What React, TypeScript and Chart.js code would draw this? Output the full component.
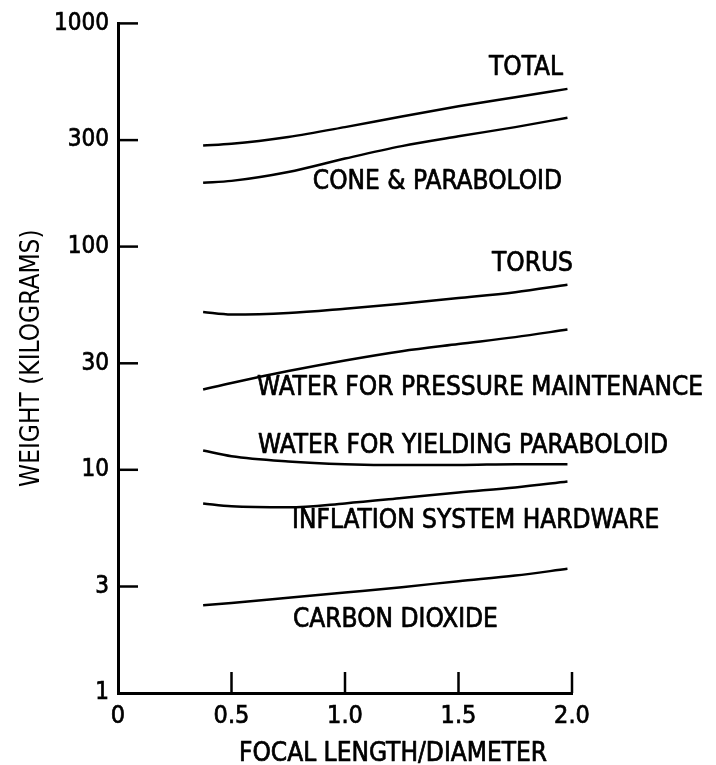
import { useEffect, useRef } from 'react';
import { Chart, registerables } from 'chart.js';

Chart.register(...registerables);

// Focal length / diameter sample points
const focalRatio = [0.375, 0.5, 0.75, 1.0, 1.25, 1.5, 1.75, 1.98];

// Weights in kilograms
const total = [284, 289, 310, 343, 383, 425, 467, 509];
const coneParaboloid = [193, 197, 216, 248, 282, 312, 343, 378];
const torus = [50.9, 49.6, 50.4, 52.7, 55.5, 58.8, 62.5, 67.5];
const waterPressure = [22.9, 24.5, 27.7, 30.9, 34.0, 36.6, 39.3, 42.5];
const waterYielding = [12.2, 11.5, 10.9, 10.6, 10.5, 10.5, 10.6, 10.6];
const inflationHardware = [7.07, 6.86, 6.79, 7.07, 7.47, 7.92, 8.34, 8.87];
const carbonDioxide = [2.47, 2.53, 2.67, 2.82, 2.98, 3.17, 3.36, 3.6];

const seriesNames = [
  'TOTAL',
  'CONE & PARABOLOID',
  'TORUS',
  'WATER FOR PRESSURE MAINTENANCE',
  'WATER FOR YIELDING PARABOLOID',
  'INFLATION SYSTEM HARDWARE',
  'CARBON DIOXIDE',
];

// Tick values
const yTicks = [1, 3, 10, 30, 100, 300, 1000];
const xTicks = [0, 0.5, 1.0, 1.5, 2.0];

// Curve label anchors (data units)
const labelX = [1.96, 1.956, 2.004, 0.612, 0.617, 0.767, 0.771];
const labelY = [650, 199, 86, 23.9, 13.1, 6.04, 2.18];
const labelAlign = ['right', 'right', 'right', 'left', 'left', 'left', 'left'];

const xTitle = 'FOCAL LENGTH/DIAMETER';
const yTitle = 'WEIGHT (KILOGRAMS)';

const TEXT_FONT = "'DejaVu Sans Condensed', 'DejaVu Sans', sans-serif";
const TICK_FONT = "'DejaVu Sans Condensed', 'DejaVu Sans', sans-serif";

export default function App() {
  const canvasRef = useRef<HTMLCanvasElement | null>(null);

  useEffect(() => {
    const canvas = canvasRef.current;
    if (!canvas) return;

    const series = [total, coneParaboloid, torus, waterPressure, waterYielding, inflationHardware, carbonDioxide];

    const annotate = {
      id: 'annotate',
      afterDraw(chart: any) {
        const ctx = chart.ctx;
        const xs = chart.scales.x;
        const ys = chart.scales.y;
        const area = chart.chartArea;
        ctx.save();
        ctx.strokeStyle = '#000';
        ctx.lineWidth = 2.5;
        ctx.lineCap = 'butt';
        // inward tick marks
        yTicks.forEach((v) => {
          if (v === yTicks[0]) return;
          const py = ys.getPixelForValue(v);
          ctx.beginPath();
          ctx.moveTo(area.left, py);
          ctx.lineTo(area.left + 20, py);
          ctx.stroke();
        });
        xTicks.forEach((v) => {
          if (v === xTicks[0]) return;
          const px = xs.getPixelForValue(v);
          ctx.beginPath();
          ctx.moveTo(px, area.bottom);
          ctx.lineTo(px, area.bottom - 21);
          ctx.stroke();
        });
        // curve labels
        ctx.fillStyle = '#000';
        ctx.font = `26px ${TEXT_FONT}`;
        ctx.textBaseline = 'alphabetic';
        ctx.lineWidth = 0.7;
        ctx.lineJoin = 'round';
        seriesNames.forEach((name, i) => {
          const px = xs.getPixelForValue(labelX[i]);
          const py = ys.getPixelForValue(labelY[i]);
          ctx.textAlign = labelAlign[i];
          ctx.fillText(name, px, py + 9.5);
          ctx.strokeText(name, px, py + 9.5);
        });
        // x axis title
        ctx.textAlign = 'center';
        ctx.fillText(xTitle, 393, 760.5);
        ctx.strokeText(xTitle, 393, 760.5);
        ctx.restore();
      },
    };

    const chart = new Chart(canvas, {
      type: 'line',
      data: {
        datasets: series.map((vals, i) => ({
          label: seriesNames[i],
          data: focalRatio.map((x, j) => ({ x, y: vals[j] })),
          borderColor: '#000',
          backgroundColor: '#000',
          borderWidth: 2.5,
          pointRadius: 0,
          fill: false,
          cubicInterpolationMode: 'monotone',
        })),
      },
      options: {
        responsive: false,
        animation: false,
        devicePixelRatio: 1,
        layout: { padding: { top: 21, right: 144, left: 0, bottom: 0 } },
        plugins: {
          legend: { display: false },
          tooltip: { enabled: false },
          title: { display: false },
        },
        scales: {
          x: {
            type: 'linear',
            min: 0,
            max: 2,
            afterBuildTicks: (scale: any) => {
              scale.ticks = xTicks.map((v) => ({ value: v }));
            },
            afterFit: (scale: any) => {
              scale.height = 72;
            },
            ticks: {
              autoSkip: false,
              maxRotation: 0,
              padding: 8,
              color: '#000',
              textStrokeColor: '#000',
              textStrokeWidth: 0.7,
              font: { family: TICK_FONT, size: 25 },
              callback: (v: any) => (Number(v) === 0 ? '0' : Number(v).toFixed(1)),
            },
            grid: { display: false, drawTicks: false },
            border: { display: true, color: '#000', width: 3 },
          },
          y: {
            type: 'logarithmic',
            min: 1,
            max: 1000,
            afterBuildTicks: (scale: any) => {
              scale.ticks = yTicks.map((v) => ({ value: v }));
            },
            afterFit: (scale: any) => {
              scale.width = 118;
            },
            ticks: {
              autoSkip: false,
              padding: 9,
              color: '#000',
              textStrokeColor: '#000',
              textStrokeWidth: 0.7,
              font: { family: TICK_FONT, size: 24 },
              callback: (v: any) => String(v),
            },
            grid: { display: false, drawTicks: false },
            border: { display: true, color: '#000', width: 3 },
            title: {
              display: true,
              text: yTitle,
              color: '#000',
              font: { family: TEXT_FONT, size: 26, lineHeight: 1 },
              padding: { top: 19, bottom: 0 },
            },
          },
        },
      },
      plugins: [annotate],
    } as any);

    return () => {
      chart.destroy();
    };
  }, []);

  return (
    <div style={{ position: 'absolute', left: 0, top: 0, width: 716, height: 765, background: '#fff' }}>
      <canvas ref={canvasRef} width={716} height={765} style={{ display: 'block' }} />
    </div>
  );
}
